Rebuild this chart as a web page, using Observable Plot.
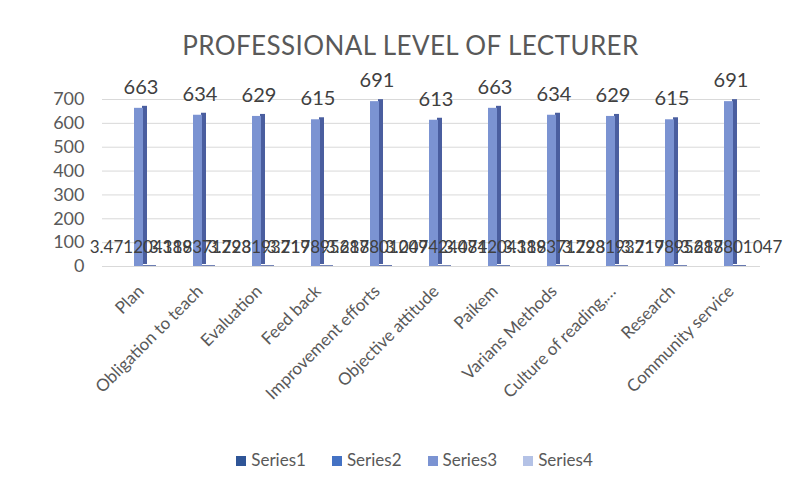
<!DOCTYPE html>
<html>
<head>
<meta charset="utf-8">
<script src="https://cdn.jsdelivr.net/npm/d3@7"></script>
<script src="https://cdn.jsdelivr.net/npm/@observablehq/plot@0.6"></script>
<style>
  html, body { margin: 0; padding: 0; background: #fff; width: 801px; height: 486px; overflow: hidden; }
  #title { font-family: Lato, "Open Sans", sans-serif; font-size: 26px; color: #595959; text-align: center; padding-top: 30px; line-height: 30px; height: 30px; padding-left: 20px; letter-spacing: 0.4px; }
  #legend { display: flex; justify-content: center; gap: 26px; font-family: Lato, sans-serif; font-size: 17px; color: #595959; line-height: 30px; height: 30px; padding-left: 28px; }
  #legend span.sw { display: inline-block; width: 10px; height: 10px; margin-right: 5px; vertical-align: 0px; }
</style>
</head>
<body>
<div id="title">PROFESSIONAL LEVEL OF LECTURER</div>
<div id="chart"></div>
<div id="legend"></div>
<script>
const categories = ["Plan", "Obligation to teach", "Evaluation", "Feed back", "Improvement efforts", "Objective attitude", "Paikem", "Varians Methods", "Culture of reading,…", "Research", "Community service"];
const seriesNames = ["Series1", "Series2", "Series3", "Series4"];
const seriesColors = ["#2f5597", "#4472c4", "#7b93d2", "#b4c2e6"];
const series3 = [663, 634, 629, 615, 691, 613, 663, 634, 629, 615, 691];
const series4 = [3.471204188, 3.319371728, 3.293193717, 3.219895288, 3.617801047, 3.209424084, 3.471204188, 3.319371728, 3.293193717, 3.219895288, 3.617801047];
const yTicks = [0, 100, 200, 300, 400, 500, 600, 700];

const data3 = categories.map((c, i) => ({category: c, value: series3[i]}));
const data4 = categories.map((c, i) => ({category: c, value: series4[i]}));

const font = "Lato, 'Open Sans', sans-serif";

const plot = Plot.plot({
  width: 801,
  height: 385,
  marginTop: 39,
  marginBottom: 179,
  marginLeft: 110,
  marginRight: 41,
  style: {fontFamily: font, color: "#595959", background: "white"},
  x: {domain: categories, padding: 0, label: null},
  y: {domain: [0, 700], label: null},
  marks: [
    Plot.ruleY(yTicks, {stroke: "#d9d9d9", strokeWidth: 1, insetLeft: -8}),
    Plot.axisY({ticks: yTicks, tickSize: 0, tickPadding: 26, fontSize: 18, fill: "#595959"}),
    Plot.axisX({tickSize: 0, tickRotate: -45, tickPadding: 22, fontSize: 17, fill: "#595959"}),
    // series4 tiny bars (3D floor)
    Plot.barY(data4, {x: "category", y: "value", fill: "#4d62a3", insetLeft: 31, insetRight: 14}),
    // 3D side face of series3
    Plot.barY(data3, {x: "category", y: "value", fill: "#4a5e9f", insetLeft: 31, insetRight: 23, dy: -2}),
    // front face of series3
    Plot.barY(data3, {x: "category", y: "value", fill: seriesColors[2], insetLeft: 23, insetRight: 27}),
    Plot.text(data3, {x: "category", y: "value", text: d => String(d.value), dy: -21, fontSize: 20, fill: "#404040"}),
    Plot.text(data4, {x: "category", y: "value", text: d => String(d.value), dy: -18, fontSize: 17, fill: "#404040"})
  ]
});
document.getElementById("chart").appendChild(plot);

const legend = document.getElementById("legend");
seriesNames.forEach((s, i) => {
  const item = document.createElement("div");
  item.innerHTML = `<span class="sw" style="background:${seriesColors[i]}"></span>${s}`;
  legend.appendChild(item);
});
</script>
</body>
</html>
